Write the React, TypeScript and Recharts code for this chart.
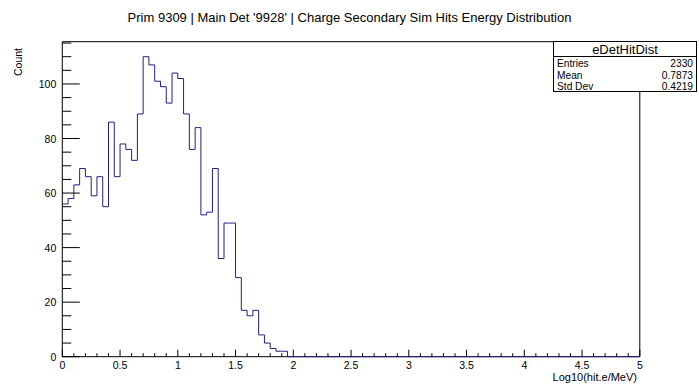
import { LineChart, Line, XAxis, YAxis, ReferenceArea } from "recharts";

// ROOT histogram: 100 bins of width 0.05 from 0 to 5
const binWidth = 0.05;
const counts = [
  56, 58, 63, 69, 66, 59, 66, 55, 86, 66,
  78, 76, 72, 89, 110, 107, 101, 99, 93, 104,
  102, 89, 76, 84, 52, 53, 69, 36, 49, 49,
  29, 17, 15, 17, 8, 5, 3, 2, 2, 0,
  0, 0, 0, 0, 0, 0, 0, 0, 0, 0,
  0, 0, 0, 0, 0, 0, 0, 0, 0, 0,
  0, 0, 0, 0, 0, 0, 0, 0, 0, 0,
  0, 0, 0, 0, 0, 0, 0, 0, 0, 0,
  0, 0, 0, 0, 0, 0, 0, 0, 0, 0,
  0, 0, 0, 0, 0, 0, 0, 0, 0, 0,
];

const xTicks = [
  0, 0.1, 0.2, 0.3, 0.4, 0.5, 0.6, 0.7, 0.8, 0.9, 1, 1.1, 1.2, 1.3, 1.4, 1.5, 1.6,
  1.7, 1.8, 1.9, 2, 2.1, 2.2, 2.3, 2.4, 2.5, 2.6, 2.7, 2.8, 2.9, 3, 3.1, 3.2, 3.3,
  3.4, 3.5, 3.6, 3.7, 3.8, 3.9, 4, 4.1, 4.2, 4.3, 4.4, 4.5, 4.6, 4.7, 4.8, 4.9, 5,
];
const yTicks = [
  0, 5, 10, 15, 20, 25, 30, 35, 40, 45, 50, 55, 60, 65, 70, 75, 80, 85, 90, 95,
  100, 105, 110, 115,
];
const yMax = 115.5;

const statsRows = [
  ["Entries", "2330"],
  ["Mean", "0.7873"],
  ["Std Dev", "0.4219"],
];

const data = counts.map((c, i) => ({ x: i * binWidth, y: c }));
data.push({ x: counts.length * binWidth, y: 0 });

const font = "'Liberation Sans', Arial, sans-serif";

function YTick(props: any) {
  const { x, y, payload } = props;
  const v = payload.value;
  const major = v % 20 === 0;
  return (
    <g>
      <line x1={x} x2={x + (major ? 17.5 : 9)} y1={y} y2={y} stroke="#000" />
      {major && (
        <text x={x - 6} y={y} dy={4} textAnchor="end" fontSize={10.5} fontFamily={font} fill="#000">
          {v}
        </text>
      )}
    </g>
  );
}

function XTick(props: any) {
  const { x, y, payload } = props;
  const v = payload.value;
  const major = Math.abs(v * 2 - Math.round(v * 2)) < 1e-6;
  return (
    <g>
      <line x1={x} x2={x} y1={y} y2={y - (major ? 7 : 3.5)} stroke="#000" />
      {major && (
        <text x={x} y={y} dy={12} textAnchor="middle" fontSize={10.5} fontFamily={font} fill="#000">
          {v}
        </text>
      )}
    </g>
  );
}

export default function App() {
  return (
    <div
      style={{
        position: "absolute",
        left: 0,
        top: 0,
        width: 699,
        height: 384,
        background: "#fff",
        fontFamily: font,
        color: "#000",
      }}
    >
      <LineChart
        width={699}
        height={384}
        data={data}
        margin={{ top: 41.7, right: 59.2, left: 2.3, bottom: 7.3 }}
      >
        <XAxis
          dataKey="x"
          type="number"
          domain={[0, 5]}
          ticks={xTicks}
          interval={0}
          tickSize={0}
          tickMargin={0}
          tickLine={false}
          axisLine={false}
          height={20}
          tick={<XTick />}
        />
        <YAxis
          type="number"
          domain={[0, yMax]}
          ticks={yTicks}
          interval={0}
          tickSize={0}
          tickMargin={0}
          tickLine={false}
          axisLine={false}
          width={60}
          tick={<YTick />}
        />
        <ReferenceArea x1={0} x2={5} y1={0} y2={yMax} fill="none" stroke="#000" strokeWidth={1} />
        <Line
          dataKey="y"
          type="stepAfter"
          stroke="#202080"
          strokeWidth={1}
          dot={false}
          activeDot={false}
          isAnimationActive={false}
        />
      </LineChart>

      <div
        style={{
          position: "absolute",
          top: 10,
          left: 0,
          width: 699,
          textAlign: "center",
          fontSize: 13,
          lineHeight: "15px",
        }}
      >
        Prim 9309 | Main Det '9928' | Charge Secondary Sim Hits Energy Distribution
      </div>

      <div
        style={{
          position: "absolute",
          left: 11.5,
          top: 76,
          fontSize: 10.5,
          lineHeight: "12px",
          transform: "rotate(-90deg)",
          transformOrigin: "0 0",
          whiteSpace: "nowrap",
        }}
      >
        Count
      </div>

      <div
        style={{
          position: "absolute",
          right: 699 - 637,
          top: 371,
          fontSize: 11,
          lineHeight: "13px",
          whiteSpace: "nowrap",
        }}
      >
        Log10(hit.e/MeV)
      </div>

      <div
        style={{
          position: "absolute",
          left: 553,
          top: 41,
          width: 144,
          height: 51,
          border: "1px solid #000",
          background: "#fff",
          boxSizing: "border-box",
        }}
      >
        <div
          style={{
            textAlign: "center",
            height: 14,
            fontSize: 13,
            lineHeight: "15px",
            borderBottom: "1px solid #000",
          }}
        >
          eDetHitDist
        </div>
        <div style={{ paddingTop: 1 }}>
          {statsRows.map(([k, v]) => (
            <div
              key={k}
              style={{
                display: "flex",
                justifyContent: "space-between",
                padding: "0 3px",
                height: 11.5,
                fontSize: 10.2,
                lineHeight: "11.5px",
              }}
            >
              <span>{k}</span>
              <span>{v}</span>
            </div>
          ))}
        </div>
      </div>
    </div>
  );
}
